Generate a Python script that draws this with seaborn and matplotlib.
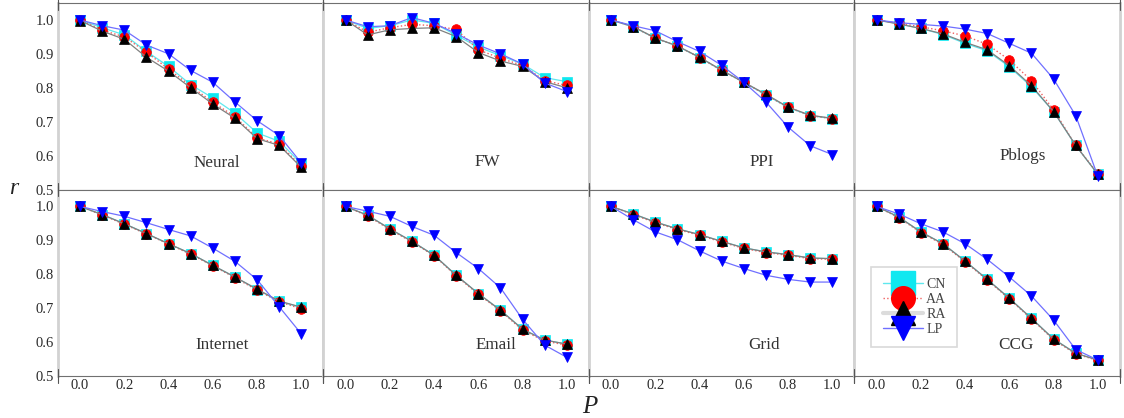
import numpy as np
import pandas as pd
import matplotlib
matplotlib.use("Agg")
import matplotlib.pyplot as plt
import seaborn as sns
from matplotlib.lines import Line2D

sns.set_theme(style="white")
plt.rcParams['font.family'] = ['Liberation Serif', 'DejaVu Serif']

P = [0.0, 0.1, 0.2, 0.3, 0.4, 0.5, 0.6, 0.7, 0.8, 0.9, 1.0]
methods = ["CN", "AA", "RA", "LP"]
networks = ["Neural", "FW", "PPI", "Pblogs", "Internet", "Email", "Grid", "CCG"]

neural_CN = [1.0, 0.977, 0.956, 0.907, 0.863, 0.809, 0.770, 0.725, 0.667, 0.642, 0.576]
neural_AA = [1.0, 0.970, 0.950, 0.905, 0.855, 0.805, 0.757, 0.715, 0.652, 0.634, 0.568]
neural_RA = [0.998, 0.967, 0.943, 0.890, 0.849, 0.800, 0.752, 0.710, 0.650, 0.630, 0.565]
neural_LP = [1.0, 0.983, 0.970, 0.926, 0.900, 0.851, 0.816, 0.758, 0.703, 0.659, 0.578]

fw_CN = [1.0, 0.975, 0.983, 1.0, 0.990, 0.955, 0.920, 0.895, 0.870, 0.830, 0.818]
fw_AA = [1.0, 0.964, 0.977, 0.987, 0.983, 0.972, 0.912, 0.887, 0.866, 0.821, 0.807]
fw_RA = [1.0, 0.956, 0.971, 0.975, 0.977, 0.951, 0.904, 0.879, 0.863, 0.818, 0.800]
fw_LP = [1.0, 0.980, 0.983, 1.007, 0.990, 0.960, 0.926, 0.900, 0.870, 0.814, 0.789]

ppi_CN = [1.0, 0.980, 0.946, 0.923, 0.889, 0.851, 0.816, 0.779, 0.742, 0.718, 0.709]
ppi_AA = [1.0, 0.980, 0.946, 0.923, 0.889, 0.851, 0.816, 0.779, 0.742, 0.718, 0.709]
ppi_RA = [1.0, 0.980, 0.947, 0.923, 0.890, 0.852, 0.816, 0.781, 0.743, 0.719, 0.710]
ppi_LP = [1.0, 0.983, 0.968, 0.936, 0.907, 0.866, 0.816, 0.758, 0.684, 0.629, 0.603]

pblogs_CN = [1.0, 0.989, 0.975, 0.957, 0.931, 0.909, 0.862, 0.803, 0.730, 0.630, 0.545]
pblogs_AA = [1.0, 0.990, 0.980, 0.968, 0.953, 0.928, 0.882, 0.821, 0.735, 0.630, 0.547]
pblogs_RA = [1.0, 0.988, 0.975, 0.959, 0.934, 0.912, 0.865, 0.806, 0.730, 0.630, 0.545]
pblogs_LP = [1.0, 0.992, 0.987, 0.982, 0.973, 0.960, 0.931, 0.902, 0.826, 0.718, 0.539]

internet_CN = [1.0, 0.976, 0.949, 0.920, 0.890, 0.861, 0.826, 0.792, 0.755, 0.720, 0.702]
internet_AA = [1.0, 0.975, 0.947, 0.919, 0.889, 0.859, 0.825, 0.790, 0.753, 0.719, 0.698]
internet_RA = [1.0, 0.976, 0.949, 0.920, 0.890, 0.861, 0.826, 0.792, 0.756, 0.721, 0.703]
internet_LP = [1.0, 0.985, 0.971, 0.952, 0.932, 0.913, 0.877, 0.838, 0.784, 0.704, 0.624]

email_CN = [1.0, 0.974, 0.934, 0.897, 0.856, 0.797, 0.743, 0.694, 0.638, 0.606, 0.594]
email_AA = [1.0, 0.972, 0.932, 0.895, 0.855, 0.795, 0.741, 0.692, 0.635, 0.603, 0.591]
email_RA = [1.0, 0.974, 0.934, 0.897, 0.856, 0.797, 0.743, 0.694, 0.638, 0.606, 0.594]
email_LP = [1.0, 0.986, 0.971, 0.941, 0.915, 0.864, 0.817, 0.760, 0.667, 0.591, 0.555]

grid_CN = [1.0, 0.978, 0.954, 0.934, 0.917, 0.897, 0.878, 0.866, 0.858, 0.848, 0.846]
grid_AA = [1.0, 0.976, 0.952, 0.932, 0.915, 0.895, 0.876, 0.864, 0.856, 0.846, 0.844]
grid_RA = [1.0, 0.978, 0.954, 0.934, 0.917, 0.897, 0.878, 0.866, 0.858, 0.848, 0.846]
grid_LP = [1.0, 0.961, 0.925, 0.902, 0.869, 0.839, 0.817, 0.797, 0.785, 0.777, 0.777]

ccg_CN = [1.0, 0.969, 0.925, 0.890, 0.839, 0.785, 0.729, 0.670, 0.609, 0.567, 0.547]
ccg_AA = [1.0, 0.967, 0.923, 0.888, 0.837, 0.783, 0.727, 0.668, 0.607, 0.565, 0.546]
ccg_RA = [1.0, 0.969, 0.925, 0.890, 0.839, 0.785, 0.729, 0.670, 0.609, 0.567, 0.547]
ccg_LP = [1.0, 0.978, 0.949, 0.925, 0.890, 0.844, 0.792, 0.736, 0.665, 0.578, 0.547]

series = {
    "Neural": [neural_CN, neural_AA, neural_RA, neural_LP],
    "FW": [fw_CN, fw_AA, fw_RA, fw_LP],
    "PPI": [ppi_CN, ppi_AA, ppi_RA, ppi_LP],
    "Pblogs": [pblogs_CN, pblogs_AA, pblogs_RA, pblogs_LP],
    "Internet": [internet_CN, internet_AA, internet_RA, internet_LP],
    "Email": [email_CN, email_AA, email_RA, email_LP],
    "Grid": [grid_CN, grid_AA, grid_RA, grid_LP],
    "CCG": [ccg_CN, ccg_AA, ccg_RA, ccg_LP],
}
label_pos = {
    "Neural": (0.62, 0.578), "FW": (0.64, 0.58), "PPI": (0.68, 0.58), "Pblogs": (0.66, 0.60),
    "Internet": (0.64, 0.59), "Email": (0.68, 0.59), "Grid": (0.69, 0.59), "CCG": (0.63, 0.59),
}

styles = {
    "CN": dict(line="#5fe8ee", ls="-", marker="s", mc="#10e8f0", ms=6.5, lw=0.9),
    "AA": dict(line="#f06060", ls=":", marker="o", mc="#ff0000", ms=7, lw=1.0),
    "RA": dict(line="#808080", ls="-", marker="^", mc="#000000", ms=7, lw=0.9),
    "LP": dict(line="#7070ff", ls="-", marker="v", mc="#0000ff", ms=7.5, lw=0.9),
}

fig, axes = plt.subplots(2, 4, figsize=(11.24, 4.18), dpi=100, sharex=True, sharey=True)
fig.subplots_adjust(left=0.0516, right=0.9964, top=0.9928, bottom=0.1005, wspace=0, hspace=0)

for ax, net in zip(axes.flat, networks):
    for m, vals in zip(methods, series[net]):
        st = styles[m]
        df = pd.DataFrame({"P": P, "r": vals})
        sns.lineplot(data=df, x="P", y="r", ax=ax, color=st["line"], linestyle=st["ls"],
                     linewidth=st["lw"], marker=st["marker"], markersize=st["ms"],
                     markerfacecolor=st["mc"], markeredgecolor=st["mc"], markeredgewidth=0.5,
                     zorder=3)
    ax.set_xlim(-0.1, 1.1)
    ax.set_ylim(0.5, 1.05)
    ax.set_xlabel("")
    ax.set_ylabel("")
    ax.set_xticks([0.0, 0.2, 0.4, 0.6, 0.8, 1.0])
    ax.set_yticks([0.5, 0.6, 0.7, 0.8, 0.9, 1.0])
    ax.xaxis.set_major_formatter(matplotlib.ticker.FormatStrFormatter("%.1f"))
    ax.yaxis.set_major_formatter(matplotlib.ticker.FormatStrFormatter("%.1f"))
    ax.tick_params(axis="both", length=0, labelsize=10.5, labelcolor="#2a2a2a")
    ax.tick_params(axis="y", pad=3)
    ax.tick_params(axis="x", pad=2)
    for side in ["top", "bottom"]:
        ax.spines[side].set_color("#707070")
        ax.spines[side].set_linewidth(0.8)
    for side in ["left", "right"]:
        ax.spines[side].set_color("#d2d2d2")
        ax.spines[side].set_linewidth(2.0)
    for xe in (0.0, 1.0):
        for y0, y1 in ((-0.035, 0.035), (0.965, 1.02)):
            ax.plot([xe, xe], [y0, y1], transform=ax.transAxes, color="#555555",
                    lw=0.8, clip_on=False, zorder=5)
    tx, ty = label_pos[net]
    ax.text(tx, ty, net, ha="center", va="center", fontsize=12.3, color="#333333")

fig.text(0.012, 0.55, "r", fontsize=17, style="italic", ha="center", va="center", color="#222222")
fig.text(0.525, 0.027, "P", fontsize=18, style="italic", ha="center", va="center", color="#222222")

handles = []
for m in methods:
    st = styles[m]
    handles.append(Line2D([0], [0], color=st["line"], linestyle=st["ls"],
                          linewidth=(3 if m == "RA" else 1.0),
                          marker=st["marker"], markersize=17,
                          markerfacecolor=st["mc"], markeredgecolor=st["mc"]))
handles[2].set_color("#dcdcdc")
leg = axes[1, 3].legend(handles, methods, loc="upper left", bbox_to_anchor=(0.064, 0.585),
                        frameon=True, fontsize=10, handlelength=2.9, labelspacing=0.15,
                        borderpad=0.8, handletextpad=0.25, borderaxespad=0.0,
                        fancybox=False)
leg.get_frame().set_edgecolor("#d0d0d0")
leg.get_frame().set_linewidth(1.2)
for t in leg.get_texts():
    t.set_color("#444444")

fig.savefig("out.png", dpi=100)
